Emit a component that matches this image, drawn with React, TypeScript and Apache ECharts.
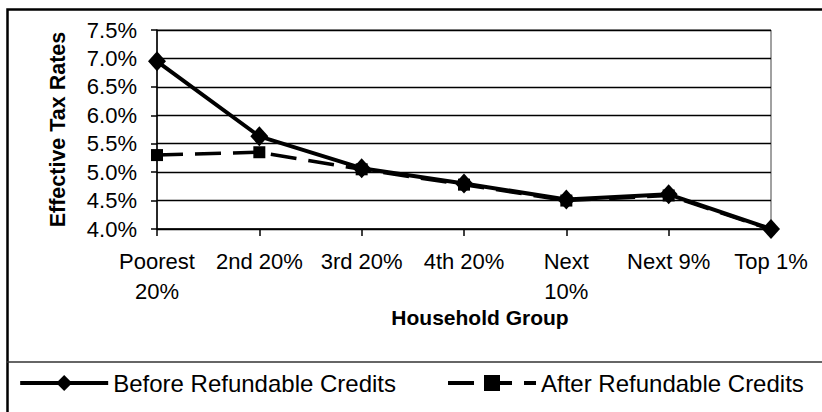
import React, { useEffect, useRef } from "react";
import * as echarts from "echarts";

const categories = ["Poorest\n20%", "2nd 20%", "3rd 20%", "4th 20%", "Next\n10%", "Next 9%", "Top 1%"];
const beforeCredits = [6.95, 5.63, 5.07, 4.8, 4.52, 4.61, 4.0];
const afterCredits = [5.3, 5.35, 5.05, 4.78, 4.5, 4.59, 3.99];
const seriesNames = ["Before Refundable Credits", "After Refundable Credits"];
const yTitle = "Effective Tax Rates";
const xTitle = "Household Group";

const FONT = '"Liberation Sans", Arial, sans-serif';

export default function App() {
  const ref = useRef<HTMLDivElement>(null);
  useEffect(() => {
    document.body.style.margin = "0";
    const chart = echarts.init(ref.current!, null, { renderer: "svg" });
    chart.setOption({
      animation: false,
      backgroundColor: "#fff",
      textStyle: { fontFamily: FONT, color: "#000" },
      grid: { left: 157, right: 51, top: 30, bottom: 183, show: true, borderColor: "#444", borderWidth: 1 },
      xAxis: {
        type: "category",
        data: categories,
        boundaryGap: false,
        name: xTitle,
        nameLocation: "middle",
        nameGap: 69,
        nameTextStyle: { fontSize: 21, fontWeight: "bold", color: "#000", fontFamily: FONT, padding: [0, 0, 0, 32] },
        axisLine: { lineStyle: { color: "#000", width: 1.5 } },
        axisTick: { show: true, length: 7, lineStyle: { color: "#000", width: 1.5 } },
        axisLabel: { interval: 0, fontSize: 22, lineHeight: 30, margin: 17, color: "#000", fontFamily: FONT },
        splitLine: { show: false },
      },
      yAxis: {
        type: "value",
        min: 4,
        max: 7.5,
        interval: 0.5,
        name: yTitle,
        nameLocation: "middle",
        nameGap: 88,
        nameTextStyle: { fontSize: 21.5, fontWeight: "bold", color: "#000", fontFamily: FONT },
        axisLine: { show: true, lineStyle: { color: "#000", width: 1.5 } },
        axisTick: { show: true, length: 6, lineStyle: { color: "#000", width: 1.5 } },
        axisLabel: {
          fontSize: 22,
          margin: 20,
          color: "#000",
          fontFamily: FONT,
          formatter: (v: number) => v.toFixed(1) + "%",
        },
        splitLine: { show: true, lineStyle: { color: "#000", width: 1.3 } },
      },
      legend: {
        data: [
          { name: seriesNames[0], lineStyle: { width: 4 } },
          { name: seriesNames[1], lineStyle: { width: 4 } },
        ],
        left: "center",
        top: 366,
        itemWidth: 88,
        itemHeight: 20,
        itemGap: 50,
        textStyle: { fontSize: 24, color: "#000", fontFamily: FONT },
      },
      graphic: [
        {
          type: "rect",
          z: -1,
          silent: true,
          shape: { x: 7.5, y: 9.5, width: 840, height: 430 },
          style: { fill: "none", stroke: "#000", lineWidth: 2.5 },
        },
        {
          type: "line",
          z: -1,
          silent: true,
          shape: { x1: 7, y1: 362, x2: 822, y2: 362 },
          style: { stroke: "#333", lineWidth: 1.5 },
        },
      ],
      series: [
        {
          name: seriesNames[0],
          type: "line",
          data: beforeCredits,
          z: 4,
          symbol: "diamond",
          symbolSize: [18, 20],
          lineStyle: { color: "#000", width: 4 },
          itemStyle: { color: "#000" },
        },
        {
          name: seriesNames[1],
          type: "line",
          data: afterCredits,
          z: 3,
          symbol: "rect",
          symbolSize: 12,
          lineStyle: { color: "#000", width: 3.5, type: [26, 12] },
          itemStyle: { color: "#000" },
        },
      ],
    });
    return () => chart.dispose();
  }, []);
  return <div ref={ref} style={{ width: 822, height: 412 }} />;
}
